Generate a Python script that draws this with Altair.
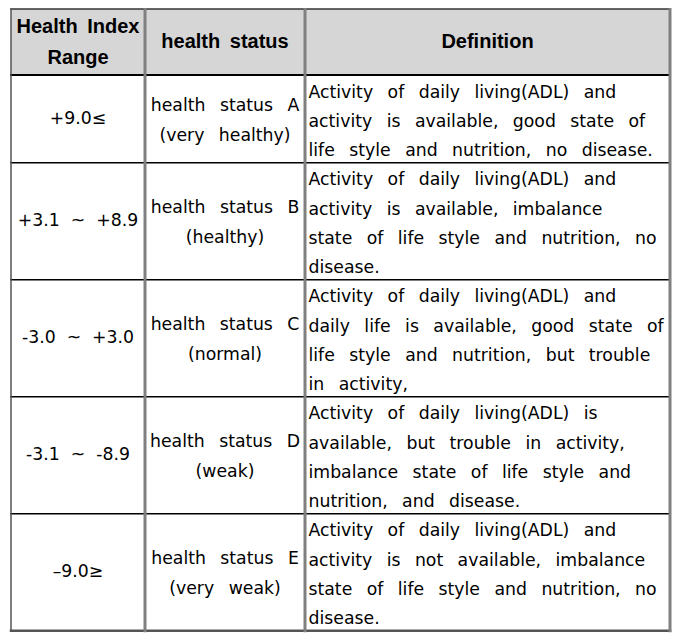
import altair as alt
import pandas as pd

# ---------------- data ----------------
headers = [["Health Index", "Range"], ["health status"], ["Definition"]]
ranges = ["+9.0≤", "+3.1 ~ +8.9", "-3.0 ~ +3.0", "-3.1 ~ -8.9", "–9.0≥"]
status_lines = [
    ["health status A", "(very healthy)"],
    ["health status B", "(healthy)"],
    ["health status C", "(normal)"],
    ["health status D", "(weak)"],
    ["health status E", "(very weak)"],
]
definition_lines = [
    ["Activity of daily living(ADL) and",
     "activity is available, good state of",
     "life style and nutrition, no disease."],
    ["Activity of daily living(ADL) and",
     "activity is available, imbalance",
     "state of life style and nutrition, no",
     "disease."],
    ["Activity of daily living(ADL) and",
     "daily life is available, good state of",
     "life style and nutrition, but trouble",
     "in activity,"],
    ["Activity of daily living(ADL) is",
     "available, but trouble in activity,",
     "imbalance state of life style and",
     "nutrition, and disease."],
    ["Activity of daily living(ADL) and",
     "activity is not available, imbalance",
     "state of life style and nutrition, no",
     "disease."],
]

# ---------------- layout ----------------
W, H = 674, 625
col_edges = [3, 137, 297, 662]
top = 1
header_h = 66
LH = 29.25
pad_left = 3.5
font_body = "DejaVu Sans"
font_head = "Liberation Sans"
fs_body = 17.3

WIDE = " \u00a0\u2009"
MID = " \u00a0"


def widen(s, sep=WIDE):
    return sep.join(s.split(" "))


texts_c, texts_l, texts_h = [], [], []
rules = []

# header
hy0, hy1 = top, top + header_h
hmid = (hy0 + hy1) / 2
for ci, lines in enumerate(headers):
    cx = (col_edges[ci] + col_edges[ci + 1]) / 2
    n = len(lines)
    for k, t in enumerate(lines):
        texts_h.append({"x": cx, "y": hmid + (k - (n - 1) / 2) * 31, "t": widen(t, " \u2009")})

header_rect = pd.DataFrame([{"x": col_edges[0], "x2": col_edges[-1], "y": hy0, "y2": hy1}])

# body rows
row_tops = [hy1]
for lines in definition_lines:
    row_tops.append(row_tops[-1] + len(lines) * LH)

for i in range(len(ranges)):
    r0, r1 = row_tops[i], row_tops[i + 1]
    mid = (r0 + r1) / 2
    texts_c.append({"x": (col_edges[0] + col_edges[1]) / 2, "y": mid, "t": widen(ranges[i], MID)})
    sl = status_lines[i]
    for k, t in enumerate(sl):
        texts_c.append({"x": (col_edges[1] + col_edges[2]) / 2,
                        "y": mid + 2 + (k - (len(sl) - 1) / 2) * 30, "t": widen(t)})
    for k, t in enumerate(definition_lines[i]):
        texts_l.append({"x": col_edges[2] + pad_left, "y": r0 + 3 + (k + 0.5) * LH, "t": widen(t)})

# horizontal rules
rules.append({"x": col_edges[0], "x2": col_edges[-1], "y": top, "y2": top, "c": "#333333", "w": 1.5})
rules.append({"x": col_edges[0], "x2": col_edges[-1], "y": hy1, "y2": hy1, "c": "#000000", "w": 2})
for yy in row_tops[1:-1]:
    rules.append({"x": col_edges[0], "x2": col_edges[-1], "y": yy, "y2": yy, "c": "#000000", "w": 1.5})
rules.append({"x": col_edges[0], "x2": col_edges[-1], "y": row_tops[-1], "y2": row_tops[-1], "c": "#555555", "w": 2.5})
# vertical rules
vw = [1.5, 3, 3, 3]
vc = ["#555555", "#808080", "#808080", "#808080"]
for xx, w, c in zip(col_edges, vw, vc):
    rules.append({"x": xx, "x2": xx, "y": top, "y2": row_tops[-1], "c": c, "w": w})

xs = alt.Scale(domain=[0, W], nice=False, zero=False)
ys = alt.Scale(domain=[0, H], nice=False, zero=False, reverse=True)

rect = alt.Chart(header_rect).mark_rect(color="#d6d6d6").encode(
    x=alt.X("x:Q", scale=xs, axis=None), x2="x2:Q",
    y=alt.Y("y:Q", scale=ys, axis=None), y2="y2:Q")

rule = alt.Chart(pd.DataFrame(rules)).mark_rule(strokeCap="square").encode(
    x=alt.X("x:Q", scale=xs, axis=None), x2="x2:Q",
    y=alt.Y("y:Q", scale=ys, axis=None), y2="y2:Q",
    color=alt.Color("c:N", scale=None),
    strokeWidth=alt.StrokeWidth("w:Q", scale=None))

head = alt.Chart(pd.DataFrame(texts_h)).mark_text(
    font=font_head, fontSize=20, fontWeight="bold", align="center", baseline="middle", color="#000000"
).encode(x=alt.X("x:Q", scale=xs, axis=None), y=alt.Y("y:Q", scale=ys, axis=None), text="t:N")

body_c = alt.Chart(pd.DataFrame(texts_c)).mark_text(
    font=font_body, fontSize=fs_body, align="center", baseline="middle", color="#000000"
).encode(x=alt.X("x:Q", scale=xs, axis=None), y=alt.Y("y:Q", scale=ys, axis=None), text="t:N")

body_l = alt.Chart(pd.DataFrame(texts_l)).mark_text(
    font=font_body, fontSize=fs_body, align="left", baseline="middle", color="#000000"
).encode(x=alt.X("x:Q", scale=xs, axis=None), y=alt.Y("y:Q", scale=ys, axis=None), text="t:N")

chart = alt.layer(rect, head, body_c, body_l, rule).properties(
    width=W, height=H, padding=0, autosize="none"
).configure_view(stroke=None)

chart.save("out.html", embed_options={"renderer": "svg", "actions": False})
